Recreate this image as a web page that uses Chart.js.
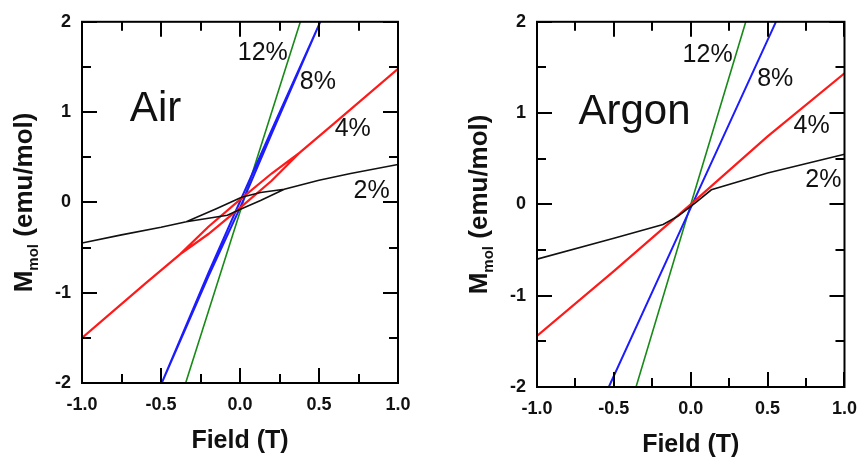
<!DOCTYPE html>
<html>
<head>
<meta charset="utf-8">
<title>M vs Field</title>
<script src="https://cdn.jsdelivr.net/npm/chart.js@4.4.1/dist/chart.umd.min.js"></script>
<style>
  body { margin: 0; background: #fff; }
  #charts { display: flex; width: 868px; height: 464px; }
  canvas { display: block; }
</style>
</head>
<body>
<div id="charts">
  <canvas id="airChart" width="434" height="464"></canvas>
  <canvas id="argonChart" width="434" height="464"></canvas>
</div>
<script>
// Field (T) -> M_mol (emu/mol), loops go up the lower branch and back down the upper one
const air2Field = [-1, -0.75, -0.5, -0.34, -0.08, 0.01, 0.13, 0.28, 0.5, 0.7, 1, 0.7, 0.5, 0.28, 0.13, 0.01, -0.15, -0.34, -0.5, -0.75, -1];
const air2Mol = [-0.45, -0.36, -0.276, -0.215, -0.143, -0.07, 0.02, 0.146, 0.245, 0.32, 0.42, 0.32, 0.245, 0.146, 0.11, 0.056, -0.07, -0.215, -0.276, -0.36, -0.45];
const air4Field = [-1, -0.6, -0.38, -0.2, 0, 0.2, 0.38, 0.6, 1, 0.6, 0.38, 0.2, 0, -0.2, -0.38, -0.6, -1];
const air4Mol = [-1.5, -0.9, -0.575, -0.35, -0.06, 0.24, 0.555, 0.88, 1.48, 0.88, 0.555, 0.32, 0.03, -0.27, -0.575, -0.9, -1.5];
const air8Field = [-0.495, -0.2, 0, 0.2, 0.508, 0.2, 0, -0.2, -0.495];
const air8Mol = [-2, -0.82, -0.06, 0.76, 2, 0.8, 0.01, -0.78, -2];
const air12Field = [-0.344, 0.019, 0.382];
const air12Mol = [-2, 0, 2];

const argon2Field = [-1, -0.5, -0.18, -0.08, 0.03, 0.134, 0.5, 1];
const argon2Mol = [-0.6, -0.37, -0.22, -0.126, 0.017, 0.16, 0.345, 0.55];
const argon4Field = [-1, -0.5, 0, 0.5, 1];
const argon4Mol = [-1.44, -0.73, 0, 0.745, 1.436];
const argon8Field = [-0.533, 0.01, 0.554];
const argon8Mol = [-2, 0, 2];
const argon12Field = [-0.356, 0, 0.358];
const argon12Mol = [-2, 0, 2];

const seriesLabels = ['2%', '4%', '8%', '12%'];
const xTickValues = [-1, -0.75, -0.5, -0.25, 0, 0.25, 0.5, 0.75, 1];
const yTickValues = [-2, -1.5, -1, -0.5, 0, 0.5, 1, 1.5, 2];

// where the text labels sit, in data units (left edge, baseline)
const airNoteX = [0.719, 0.599, 0.378, -0.014];
const airNoteY = [0.049, 0.732, 1.252, 1.577];
const argonNoteX = [0.745, 0.669, 0.432, -0.053];
const argonNoteY = [0.19, 0.779, 1.30, 1.561];

const colors = ['#111111', '#ff1a1a', '#1c1cff', '#178a17'];
const widths = [1.6, 2.2, 2, 1.6];
const FONT = '"Liberation Sans", Arial, Helvetica, sans-serif';

function points(xs, ys) {
    return xs.map((x, i) => ({ x: x, y: ys[i] }));
}

function makeDatasets(fields, mols) {
    return fields.map((f, i) => ({
        label: seriesLabels[i],
        data: points(f, mols[i]),
        borderColor: colors[i],
        borderWidth: widths[i],
        showLine: true,
        pointRadius: 0,
        tension: 0,
        fill: false
    }));
}

const framePlugin = {
    id: 'frame',
    afterDatasetsDraw(chart, args, opts) {
        const ctx = chart.ctx;
        const a = chart.chartArea;
        const xs = chart.scales.x;
        const ys = chart.scales.y;
        ctx.save();
        ctx.strokeStyle = '#000';
        ctx.lineWidth = 2;
        ctx.strokeRect(a.left, a.top, a.right - a.left, a.bottom - a.top);

        // inward ticks on all four sides
        ctx.beginPath();
        xTickValues.forEach(v => {
            const len = (v * 2) % 1 === 0 ? 15 : 9;
            const px = Math.round(xs.getPixelForValue(v));
            ctx.moveTo(px, a.bottom); ctx.lineTo(px, a.bottom - len);
            ctx.moveTo(px, a.top); ctx.lineTo(px, a.top + len);
        });
        yTickValues.forEach(v => {
            const len = v % 1 === 0 ? 15 : 9;
            const py = Math.round(ys.getPixelForValue(v));
            ctx.moveTo(a.left, py); ctx.lineTo(a.left + len, py);
            ctx.moveTo(a.right, py); ctx.lineTo(a.right - len, py);
        });
        ctx.stroke();

        // curve labels and gas name
        ctx.fillStyle = '#111';
        ctx.textAlign = 'left';
        ctx.textBaseline = 'alphabetic';
        ctx.font = '25px ' + FONT;
        seriesLabels.forEach((t, i) => {
            ctx.fillText(t, xs.getPixelForValue(opts.noteX[i]), ys.getPixelForValue(opts.noteY[i]));
        });
        ctx.font = '42px ' + FONT;
        ctx.fillText(opts.name, xs.getPixelForValue(opts.nameX), ys.getPixelForValue(opts.nameY));

        // x title
        ctx.font = 'bold 25px ' + FONT;
        ctx.textAlign = 'center';
        ctx.textBaseline = 'middle';
        ctx.fillText('Field (T)', (a.left + a.right) / 2, a.bottom + 58);

        // y title with subscript
        ctx.translate(a.left - 59, (a.top + a.bottom) / 2);
        ctx.rotate(-Math.PI / 2);
        ctx.textAlign = 'left';
        ctx.textBaseline = 'alphabetic';
        const big = 'bold 26px ' + FONT;
        const small = 'bold 15px ' + FONT;
        ctx.font = big;
        const wM = ctx.measureText('M').width;
        const wRest = ctx.measureText(' (emu/mol)').width;
        ctx.font = small;
        const wSub = ctx.measureText('mol').width;
        let x = -(wM + wSub + wRest) / 2;
        ctx.font = big;
        ctx.fillText('M', x, 9);
        x += wM;
        ctx.font = small;
        ctx.fillText('mol', x, 15);
        x += wSub;
        ctx.font = big;
        ctx.fillText(' (emu/mol)', x, 9);
        ctx.restore();
    }
};

function drawPanel(canvasId, datasets, pad, yWidth, xHeight, notes) {
    const tickFont = { family: FONT, size: 18, weight: 'bold' };
    return new Chart(document.getElementById(canvasId), {
        type: 'scatter',
        data: { datasets: datasets },
        options: {
            responsive: false,
            animation: false,
            layout: { padding: pad },
            plugins: {
                legend: { display: false },
                tooltip: { enabled: false },
                frame: notes
            },
            scales: {
                x: {
                    type: 'linear', min: -1, max: 1,
                    grid: { display: false, drawTicks: false },
                    border: { display: false },
                    ticks: { stepSize: 0.5, padding: 11, color: '#111', font: tickFont,
                        callback: v => v.toFixed(1) },
                    afterFit: s => { s.height = xHeight; }
                },
                y: {
                    type: 'linear', min: -2, max: 2,
                    grid: { display: false, drawTicks: false },
                    border: { display: false },
                    ticks: { stepSize: 1, padding: 11, color: '#111', font: tickFont,
                        callback: v => String(v) },
                    afterFit: s => { s.width = yWidth; }
                }
            }
        },
        plugins: [framePlugin]
    });
}

drawPanel('airChart',
    makeDatasets([air2Field, air4Field, air8Field, air12Field], [air2Mol, air4Mol, air8Mol, air12Mol]),
    { left: 0, top: 14, right: 36, bottom: 0 }, 82, 81,
    { noteX: airNoteX, noteY: airNoteY, name: 'Air', nameX: -0.697, nameY: 0.905 });

drawPanel('argonChart',
    makeDatasets([argon2Field, argon4Field, argon8Field, argon12Field], [argon2Mol, argon4Mol, argon8Mol, argon12Mol]),
    { left: 0, top: 16, right: 14, bottom: 0 }, 103, 77,
    { noteX: argonNoteX, noteY: argonNoteY, name: 'Argon', nameX: -0.730, nameY: 0.879 });
</script>
</body>
</html>
